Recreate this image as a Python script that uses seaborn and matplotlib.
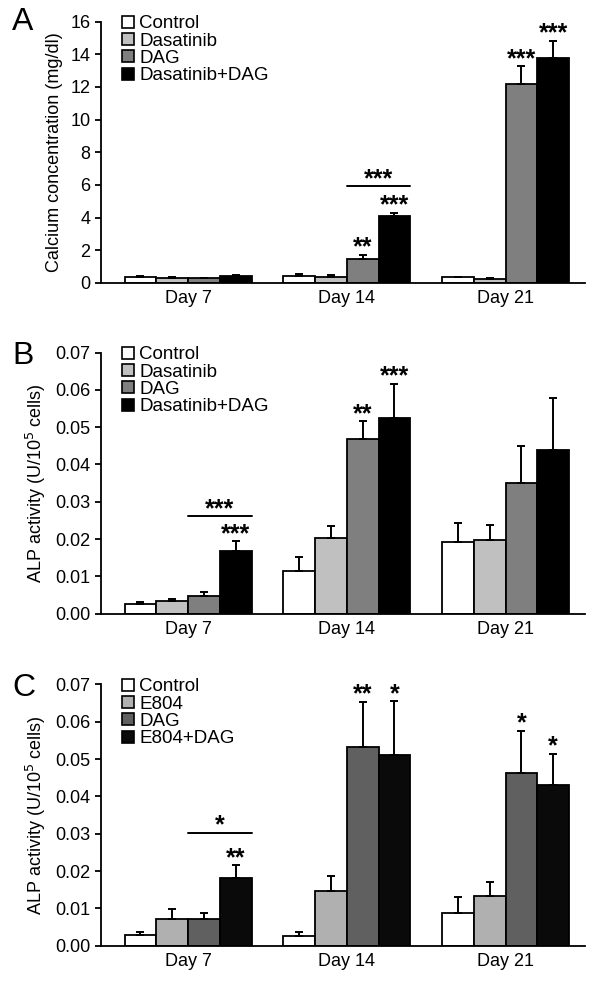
import matplotlib

matplotlib.use("Agg")
import matplotlib.pyplot as plt
import numpy as np
import pandas as pd
import seaborn as sns
from matplotlib.patches import Patch

days = ["Day 7", "Day 14", "Day 21"]

# panel A: calcium
groups_a = ["Control", "Dasatinib", "DAG", "Dasatinib+DAG"]
calcium = [[0.35, 0.30, 0.28, 0.40],
           [0.42, 0.35, 1.48, 4.10],
           [0.33, 0.22, 12.15, 13.80]]
calcium_err = [[0.05, 0.05, 0.03, 0.06],
               [0.15, 0.10, 0.25, 0.20],
               [0.05, 0.06, 1.13, 1.04]]

# panel B: ALP, dasatinib
alp_b = [[0.0026, 0.0033, 0.0047, 0.0168],
         [0.0114, 0.0202, 0.0468, 0.0525],
         [0.0193, 0.0197, 0.0351, 0.0438]]
alp_b_err = [[0.0005, 0.0006, 0.0012, 0.0026],
             [0.0037, 0.0033, 0.0048, 0.0091],
             [0.0049, 0.0042, 0.0099, 0.0141]]

# panel C: ALP, E804
groups_c = ["Control", "E804", "DAG", "E804+DAG"]
alp_c = [[0.0029, 0.0072, 0.0072, 0.0180],
         [0.0026, 0.0147, 0.0533, 0.0512],
         [0.0087, 0.0132, 0.0464, 0.0431]]
alp_c_err = [[0.0007, 0.0025, 0.0016, 0.0036],
             [0.0010, 0.0041, 0.0121, 0.0143],
             [0.0043, 0.0038, 0.0112, 0.0083]]

# significance marks: (day, group, label)
stars_a = [(1, 2, "**"), (1, 3, "***"), (2, 2, "***"), (2, 3, "***")]
stars_b = [(0, 3, "***"), (1, 2, "**"), (1, 3, "***")]
stars_c = [(0, 3, "**"), (1, 2, "**"), (1, 3, "*"), (2, 2, "*"), (2, 3, "*")]
# brackets: (day, y, label)
bracket_a = (1, 5.9, "***")
bracket_b = (0, 0.0262, "***")
bracket_c = (0, 0.0303, "*")

colors_ab = ["white", "#c0c0c0", "#7f7f7f", "black"]
colors_c = ["white", "#b0b0b0", "#606060", "#0a0a0a"]

sns.set_style("ticks")
plt.rcParams["font.family"] = ["Liberation Sans", "DejaVu Sans"]
for key in ["text.color", "axes.labelcolor", "xtick.color", "ytick.color", "axes.edgecolor"]:
    plt.rcParams[key] = "black"


def draw_panel(ax, groups, vals, errs, colors, ylabel, ymax, fmt, stars, bracket, off):
    df = pd.DataFrame(
        [(d, g, vals[i][j]) for i, d in enumerate(days) for j, g in enumerate(groups)],
        columns=["day", "group", "value"],
    )
    sns.barplot(data=df, x="day", y="value", hue="group", hue_order=groups,
                palette=colors, edgecolor="black", linewidth=1.3,
                errorbar=None, width=0.8, ax=ax, legend=False)
    bar_conts = list(ax.containers)
    tops = {}
    for j, cont in enumerate(bar_conts):
        xs = [b.get_x() + b.get_width() / 2 for b in cont]
        ys = [vals[i][j] for i in range(len(days))]
        es = [errs[i][j] for i in range(len(days))]
        ax.errorbar(xs, ys, yerr=[np.zeros(len(es)), es], fmt="none",
                    ecolor="black", elinewidth=1.4, capsize=3.2, capthick=1.4,
                    zorder=1)
        for i, b in enumerate(cont):
            tops[(i, j)] = (xs[i], ys[i] + es[i], b)
    for i, j, lab in stars:
        x, y, _ = tops[(i, j)]
        ax.text(x, y + off, lab, ha="center", va="bottom", fontsize=18,
                fontweight="bold")
    d, by, lab = bracket
    b1 = tops[(d, 2)][2]
    b2 = tops[(d, 3)][2]
    ax.plot([b1.get_x(), b2.get_x() + b2.get_width()], [by, by], color="black", lw=1.4)
    ax.text((b1.get_x() + b2.get_x() + b2.get_width()) / 2, by + off, lab,
            ha="center", va="bottom", fontsize=18, fontweight="bold")

    ax.set_xlim(-0.55, 2.5)
    ax.set_ylim(0, ymax)
    ax.set_xlabel("")
    ax.set_ylabel(ylabel, fontsize=13, labelpad=5)
    ax.yaxis.set_major_formatter(matplotlib.ticker.FormatStrFormatter(fmt))
    ax.tick_params(axis="x", length=0, labelsize=13, pad=5)
    ax.tick_params(axis="y", length=4, width=1.3, labelsize=13, direction="out")
    sns.despine(ax=ax)
    for s in ["left", "bottom"]:
        ax.spines[s].set_linewidth(1.3)
    handles = [Patch(facecolor=c, edgecolor="black", linewidth=1.2) for c in colors]
    ax.legend(handles, groups, loc="upper left", bbox_to_anchor=(0.025, 1.06),
              frameon=False, fontsize=13.5, handlelength=0.6, handleheight=0.6,
              handletextpad=0.3, labelspacing=0.02, borderpad=0)


fig = plt.figure(figsize=(6, 9.82), dpi=100)
left, width, height = 0.168, 0.807, 0.266
ax_a = fig.add_axes([left, 0.712, width, height])
ax_b = fig.add_axes([left, 0.375, width, height])
ax_c = fig.add_axes([left, 0.037, width, height])

draw_panel(ax_a, groups_a, calcium, calcium_err, colors_ab,
           "Calcium concentration (mg/dl)", 16, "%d", stars_a, bracket_a, -0.3)
ax_a.set_yticks(np.arange(0, 17, 2))
draw_panel(ax_b, groups_a, alp_b, alp_b_err, colors_ab,
           "ALP activity (U/10$^5$ cells)", 0.07, "%.2f", stars_b, bracket_b, -0.0013)
ax_b.set_yticks(np.arange(0, 0.071, 0.01))
draw_panel(ax_c, groups_c, alp_c, alp_c_err, colors_c,
           "ALP activity (U/10$^5$ cells)", 0.07, "%.2f", stars_c, bracket_c, -0.0013)
ax_c.set_yticks(np.arange(0, 0.071, 0.01))

for lab, y in zip(["A", "B", "C"], [0.993, 0.6527, 0.3147]):
    fig.text(0.02, y, lab, fontsize=23, va="top", ha="left")

fig.savefig("out.png", dpi=100)
